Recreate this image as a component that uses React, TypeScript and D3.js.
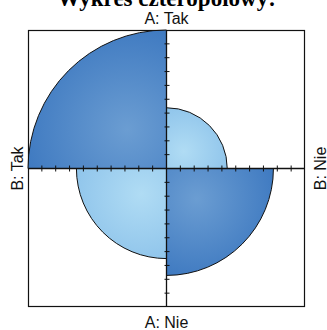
import React from "react";
import * as d3 from "d3";

const WIDTH = 327;
const HEIGHT = 330;
const MARGIN = { top: 30, right: 22, bottom: 23, left: 28 };

const TITLE = "Wykres czteropolowy:";
const A_LEVELS = ["Tak", "Nie"]; // rows: top, bottom
const B_LEVELS = ["Tak", "Nie"]; // columns: left, right
// counts[a][b]
const COUNTS = [
  [52, 10],
  [22, 31],
];
const AXIS_TICKS = d3.range(-9, 10).filter((t) => t !== 0);

const DARK = ["#6b9dd2", "#3a76bf"];
const LIGHT = ["#b0dcf4", "#8cc2ea"];

export default function App() {
  const size = WIDTH - MARGIN.left - MARGIN.right;
  const cx = MARGIN.left + size / 2;
  const cy = MARGIN.top + size / 2;
  const rMax = size / 2;

  const rScale = d3
    .scaleSqrt()
    .domain([0, d3.max(COUNTS.flat()) as number])
    .range([0, rMax]);
  const axisScale = d3.scaleLinear().domain([-10, 10]).range([-rMax, rMax]);

  const cells = A_LEVELS.flatMap((a, i) =>
    B_LEVELS.map((b, j) => {
      const start = i === 0 ? (j === 0 ? -Math.PI / 2 : 0) : j === 0 ? Math.PI : Math.PI / 2;
      const r = rScale(COUNTS[i][j]);
      const mid = start + Math.PI / 4;
      return {
        key: `${a}-${b}`,
        r,
        start,
        end: start + Math.PI / 2,
        dark: i === j,
        gx: Math.sin(mid) * r * 0.4,
        gy: -Math.cos(mid) * r * 0.4,
      };
    })
  );

  const arc = d3.arc<any>().innerRadius(0);

  return (
    <svg
      width={WIDTH}
      height={HEIGHT}
      style={{ position: "absolute", left: 0, top: 0, background: "#fff" }}
    >
      <defs>
        {cells.map((c) => {
          const cols = c.dark ? DARK : LIGHT;
          return (
            <radialGradient
              key={c.key}
              id={`g-${c.key}`}
              gradientUnits="userSpaceOnUse"
              cx={c.gx}
              cy={c.gy}
              r={c.r * 0.85}
            >
              <stop offset="0" stopColor={cols[0]} />
              <stop offset="1" stopColor={cols[1]} />
            </radialGradient>
          );
        })}
      </defs>

      <text
        x={cx}
        y={6}
        textAnchor="middle"
        fontFamily="Liberation Serif, serif"
        fontWeight="bold"
        fontSize={23}
      >
        {TITLE}
      </text>

      <rect
        x={MARGIN.left + 0.5}
        y={MARGIN.top + 0.5}
        width={size - 1}
        height={size - 1}
        fill="none"
        stroke="#111"
        strokeWidth={1.2}
      />

      <g transform={`translate(${cx},${cy})`}>
        {cells.map((c) => (
          <path
            key={c.key}
            d={arc({ outerRadius: c.r, startAngle: c.start, endAngle: c.end }) as string}
            fill={`url(#g-${c.key})`}
            stroke="#111"
            strokeWidth={1}
          />
        ))}

        <line x1={-rMax} x2={rMax} y1={0} y2={0} stroke="#111" strokeWidth={1.3} />
        <line x1={0} x2={0} y1={-rMax} y2={rMax} stroke="#111" strokeWidth={1.3} />

        {AXIS_TICKS.map((t) => (
          <g key={t}>
            <line
              x1={axisScale(t)}
              x2={axisScale(t)}
              y1={-3}
              y2={3}
              stroke="#111"
              strokeWidth={1}
            />
            <line
              x1={-2}
              x2={3}
              y1={axisScale(t)}
              y2={axisScale(t)}
              stroke="#111"
              strokeWidth={1}
            />
          </g>
        ))}
      </g>

      <g fontFamily="Liberation Sans, Arial, sans-serif" fontSize={16} fill="#111">
        <text x={cx} y={24} textAnchor="middle">
          {`A: ${A_LEVELS[0]}`}
        </text>
        <text x={cx} y={328} textAnchor="middle">
          {`A: ${A_LEVELS[1]}`}
        </text>
        <text transform={`translate(23,${cy}) rotate(-90)`} textAnchor="middle">
          {`B: ${B_LEVELS[0]}`}
        </text>
        <text transform={`translate(326,${cy}) rotate(-90)`} textAnchor="middle">
          {`B: ${B_LEVELS[1]}`}
        </text>
      </g>
    </svg>
  );
}
